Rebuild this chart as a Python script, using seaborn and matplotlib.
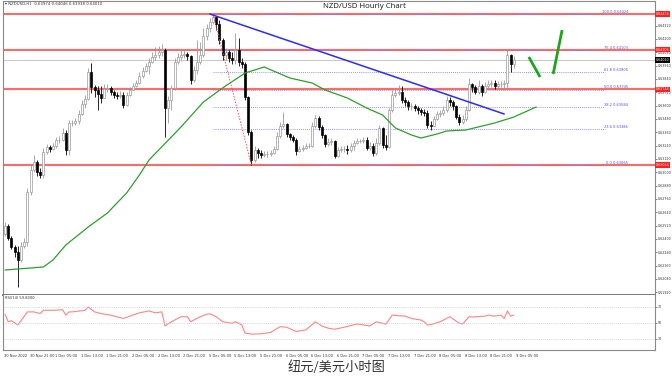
import numpy as np
import pandas as pd
import matplotlib
matplotlib.use("Agg")
import matplotlib.pyplot as plt
import seaborn as sns

# ---------------- data ----------------
first_open = 0.62444
close = [0.62516, 0.62408, 0.62327, 0.62282, 0.62210, 0.62336, 0.62372, 0.62822, 0.63020, 0.63092,
         0.63002, 0.62975, 0.63182, 0.63227, 0.63209, 0.63236, 0.63290, 0.63290, 0.63353, 0.63200,
         0.63443, 0.63443, 0.63461, 0.63524, 0.63614, 0.63659, 0.63902, 0.63767, 0.63740, 0.63704,
         0.63668, 0.63749, 0.63758, 0.63722, 0.63695, 0.63686, 0.63695, 0.63605, 0.63695, 0.63740,
         0.63776, 0.63803, 0.63866, 0.63911, 0.63956, 0.63992, 0.64037, 0.64055, 0.64082, 0.64100,
         0.63578, 0.63650, 0.63758, 0.63992, 0.64037, 0.64055, 0.64064, 0.64046, 0.63830, 0.63920,
         0.63992, 0.64055, 0.64226, 0.64298, 0.64352, 0.64397, 0.64334, 0.64190, 0.64055, 0.64082,
         0.64028, 0.64010, 0.64100, 0.63992, 0.63974, 0.63677, 0.63362, 0.63110, 0.63200, 0.63173,
         0.63155, 0.63164, 0.63164, 0.63173, 0.63209, 0.63326, 0.63416, 0.63434, 0.63344, 0.63317,
         0.63290, 0.63191, 0.63209, 0.63218, 0.63236, 0.63236, 0.63416, 0.63488, 0.63407, 0.63335,
         0.63254, 0.63272, 0.63281, 0.63146, 0.63200, 0.63209, 0.63209, 0.63200, 0.63236, 0.63263,
         0.63281, 0.63281, 0.63290, 0.63218, 0.63236, 0.63173, 0.63263, 0.63398, 0.63245, 0.63227,
         0.63560, 0.63695, 0.63713, 0.63722, 0.63650, 0.63632, 0.63596, 0.63596, 0.63578, 0.63560,
         0.63542, 0.63533, 0.63425, 0.63416, 0.63479, 0.63524, 0.63533, 0.63560, 0.63650, 0.63632,
         0.63596, 0.63497, 0.63452, 0.63479, 0.63560, 0.63794, 0.63767, 0.63722, 0.63776, 0.63722,
         0.63776, 0.63794, 0.63803, 0.63776, 0.63794, 0.63794, 0.63803, 0.64055, 0.63974, 0.64010]
high = [0.62552, 0.62534, 0.62426, 0.62345, 0.62336, 0.62372, 0.62408, 0.62858, 0.63065, 0.63155,
        0.63110, 0.63038, 0.63218, 0.63254, 0.63245, 0.63263, 0.63317, 0.63326, 0.63398, 0.63380,
        0.63470, 0.63470, 0.63488, 0.63560, 0.63650, 0.63695, 0.63938, 0.63983, 0.63785, 0.63776,
        0.63776, 0.63794, 0.63794, 0.63776, 0.63740, 0.63722, 0.63731, 0.63722, 0.63722, 0.63767,
        0.63803, 0.63830, 0.63902, 0.63947, 0.63983, 0.64028, 0.64082, 0.64127, 0.64136, 0.64154,
        0.64118, 0.63686, 0.63785, 0.64028, 0.64073, 0.64100, 0.64100, 0.64082, 0.64055, 0.63956,
        0.64190, 0.64172, 0.64298, 0.64334, 0.64388, 0.64424, 0.64406, 0.64370, 0.64208, 0.64118,
        0.64100, 0.64082, 0.64253, 0.64208, 0.64028, 0.63992, 0.63686, 0.63380, 0.63236, 0.63218,
        0.63200, 0.63191, 0.63191, 0.63200, 0.63236, 0.63362, 0.63452, 0.63542, 0.63443, 0.63353,
        0.63335, 0.63308, 0.63236, 0.63245, 0.63263, 0.63263, 0.63452, 0.63515, 0.63506, 0.63425,
        0.63344, 0.63308, 0.63308, 0.63290, 0.63227, 0.63236, 0.63236, 0.63245, 0.63263, 0.63290,
        0.63308, 0.63299, 0.63317, 0.63317, 0.63272, 0.63263, 0.63308, 0.63425, 0.63407, 0.63335,
        0.63578, 0.63740, 0.63758, 0.63785, 0.63776, 0.63677, 0.63650, 0.63623, 0.63614, 0.63596,
        0.63578, 0.63569, 0.63560, 0.63461, 0.63506, 0.63551, 0.63560, 0.63596, 0.63686, 0.63677,
        0.63650, 0.63605, 0.63524, 0.63515, 0.63596, 0.63848, 0.63803, 0.63785, 0.63830, 0.63794,
        0.63812, 0.63830, 0.63830, 0.63830, 0.63821, 0.63821, 0.63830, 0.64109, 0.64064, 0.64046]
low = [0.62426, 0.62390, 0.62309, 0.62237, 0.61967, 0.62192, 0.62318, 0.62336, 0.62795, 0.63002,
       0.62966, 0.62948, 0.62948, 0.63164, 0.63182, 0.63200, 0.63218, 0.63263, 0.63281, 0.63155,
       0.63155, 0.63416, 0.63425, 0.63434, 0.63515, 0.63578, 0.63650, 0.63713, 0.63677, 0.63560,
       0.63623, 0.63695, 0.63722, 0.63695, 0.63668, 0.63659, 0.63668, 0.63578, 0.63596, 0.63686,
       0.63740, 0.63767, 0.63794, 0.63848, 0.63902, 0.63884, 0.63983, 0.64010, 0.64028, 0.64046,
       0.63317, 0.63443, 0.63560, 0.63740, 0.63974, 0.64010, 0.64028, 0.64010, 0.63794, 0.63812,
       0.63884, 0.63974, 0.64037, 0.64190, 0.64262, 0.64334, 0.64280, 0.64154, 0.64010, 0.64010,
       0.63992, 0.63974, 0.63974, 0.63956, 0.63938, 0.63650, 0.63335, 0.63065, 0.63092, 0.63128,
       0.63128, 0.63137, 0.63137, 0.63146, 0.63164, 0.63200, 0.63308, 0.63398, 0.63317, 0.63290,
       0.63272, 0.63155, 0.63182, 0.63191, 0.63209, 0.63218, 0.63227, 0.63398, 0.63380, 0.63308,
       0.63227, 0.63236, 0.63245, 0.63128, 0.63137, 0.63182, 0.63182, 0.63164, 0.63182, 0.63200,
       0.63254, 0.63263, 0.63263, 0.63200, 0.63200, 0.63146, 0.63155, 0.63245, 0.63218, 0.63200,
       0.63218, 0.63542, 0.63677, 0.63695, 0.63623, 0.63596, 0.63560, 0.63560, 0.63551, 0.63524,
       0.63515, 0.63506, 0.63398, 0.63380, 0.63416, 0.63470, 0.63497, 0.63515, 0.63542, 0.63596,
       0.63560, 0.63479, 0.63425, 0.63434, 0.63461, 0.63551, 0.63722, 0.63704, 0.63704, 0.63686,
       0.63713, 0.63758, 0.63767, 0.63749, 0.63758, 0.63767, 0.63740, 0.63758, 0.63902, 0.63938]

ma_bar = [0, 12, 15, 19, 26, 32, 38, 42, 45, 55, 62, 68, 75, 81, 89, 96, 100, 107, 113, 118,
          122, 127, 130, 135, 138, 144, 153, 159, 166]
ma_val = [0.62120, 0.62147, 0.62210, 0.62345, 0.62507, 0.62633, 0.62813, 0.62975, 0.63110, 0.63407,
          0.63632, 0.63758, 0.63893, 0.63947, 0.63848, 0.63803, 0.63740, 0.63668, 0.63578, 0.63515,
          0.63398, 0.63335, 0.63308, 0.63344, 0.63371, 0.63380, 0.63443, 0.63497, 0.63587]

rsi_bar = [0, 1, 2, 4, 5, 7, 9, 11, 12, 16, 18, 19, 20, 21, 25, 26, 28, 30, 33, 37,
           39, 42, 45, 47, 49, 50, 52, 55, 57, 58, 61, 63, 64, 66, 68, 71, 72, 74, 75, 77,
           80, 83, 86, 88, 91, 94, 97, 99, 101, 103, 106, 110, 112, 114, 116, 118, 119, 121, 125, 127,
           130, 131, 132, 133, 136, 139, 142, 143, 145, 146, 150, 151, 153, 155, 156, 157, 158, 159]
rsi_val = [61.0, 51.6, 52.9, 47.6, 52.9, 63.9, 63.9, 61.8, 65.9, 65.9, 66.7, 59.8, 63.9, 63.9, 65.9, 70.0, 63.9, 61.8, 59.8, 55.7,
           58.6, 62.7, 65.1, 62.7, 63.9, 46.3, 51.6, 57.8, 57.8, 51.6, 57.8, 61.0, 61.5, 57.8, 51.6, 49.6, 51.6, 47.6, 37.3, 36.1,
           36.5, 38.2, 45.5, 44.7, 39.4, 41.4, 51.6, 46.3, 43.5, 42.2, 44.7, 48.8, 47.6, 46.3, 51.6, 49.6, 48.5, 59.8, 58.6, 55.7,
           53.7, 51.6, 47.6, 47.8, 51.6, 57.8, 49.6, 48.8, 57.8, 57.5, 58.6, 59.8, 58.6, 59.8, 55.7, 65.1, 58.6, 59.8]

tick_labels = ["30 Nov 2022", "30 Nov 21:00", "1 Dec 05:00", "1 Dec 13:00", "1 Dec 21:00",
               "2 Dec 05:00", "2 Dec 13:00", "2 Dec 21:00", "5 Dec 05:00", "5 Dec 13:00",
               "5 Dec 21:00", "6 Dec 05:00", "6 Dec 13:00", "6 Dec 21:00", "7 Dec 05:00",
               "7 Dec 13:00", "7 Dec 21:00", "8 Dec 05:00", "8 Dec 13:00", "8 Dec 21:00",
               "9 Dec 05:00"]
price_ticks = [0.64320, 0.64200, 0.64080, 0.63960, 0.63840, 0.63720, 0.63600, 0.63480,
               0.63360, 0.63240, 0.63120, 0.63000, 0.62880, 0.62760, 0.62640, 0.62520, 0.62400,
               0.62280, 0.62160, 0.62040, 0.61920]
rsi_ticks = [70, 50, 30]

fib_high, fib_low = 0.64424, 0.63065
fib_levels = [100.0, 76.4, 61.8, 50.0, 38.2, 23.6, 0.0]
red_levels = [0.64424, 0.64103, 0.63745, 0.63065]
trend_bar, trend_price = [64, 156], [0.64424, 0.63524]
fibline_bar, fibline_price = [65, 77], [0.64424, 0.63065]
arrow1_bar, arrow1_price = [163.7, 167.2], [0.64037, 0.63857]
arrow2_bar, arrow2_price = [171.3, 174.1], [0.63884, 0.64280]

title = "NZD/USD Hourly Chart"
caption = "纽元/美元小时图"
symbol = "NZDUSD,H1"

# ---------------- drawing ----------------
sns.set_style("white")
plt.rcParams['font.family'] = ['DejaVu Sans']

W, H = 672, 377
fig = plt.figure(figsize=(W / 100, H / 100), dpi=100)


def box(x0, y0, x1, y1):
    return [x0 / W, 1 - y1 / H, (x1 - x0) / W, (y1 - y0) / H]


ax = fig.add_axes(box(3, 1, 655, 295))
axr = fig.add_axes(box(3, 295, 655, 350), sharex=ax)

n = len(close)
opens = [first_open] + close[:-1]
for i in range(n):
    o, c, h, l = opens[i], close[i], high[i], low[i]
    bull = c >= o
    col = '#9a9a9a' if bull else '#000000'
    ax.vlines(i, min(l, o, c), max(h, o, c), color=col, lw=0.6, zorder=3)
    ax.bar(i, max(abs(c - o), 0.00002), bottom=min(o, c), width=0.62,
           facecolor='white' if bull else 'black', edgecolor=col, linewidth=0.5, zorder=4)

# horizontal red levels
for p in red_levels:
    ax.axhline(p, color='#ff6b6b', lw=1.5, zorder=1)

# fibonacci dotted lines + labels
fib_prices = [fib_low + (fib_high - fib_low) * lv / 100 for lv in fib_levels]
ax.hlines(fib_prices, 65, 187.5, colors='#7070ff', linestyles=(0, (1, 1.5)), lw=0.6, zorder=2)
for lv, p in zip(fib_levels, fib_prices):
    ax.text(194.7, p, f"{lv:.1f} {p:.5f}", ha='right', va='bottom', fontsize=2.6,
            color='#5050ff', zorder=6)
ax.plot(fibline_bar, fibline_price, color='#ff5050', ls=(0, (1.5, 1.5)), lw=0.7, zorder=5)

# current price line
current = close[-1]
ax.axhline(current, color='#c0c0c0', lw=0.6, zorder=1)

# moving average and trend line
sns.lineplot(x=ma_bar, y=ma_val, ax=ax, color='#2e9e2e', lw=0.9, zorder=5)
sns.lineplot(x=trend_bar, y=trend_price, ax=ax, color='#2b2bff', lw=1.1, zorder=5)

# hand-drawn projection strokes
ax.plot(arrow1_bar, arrow1_price, color='#1ea51e', lw=2.0, solid_capstyle='butt', zorder=6)
ax.plot(arrow2_bar, arrow2_price, color='#1ea51e', lw=2.0, solid_capstyle='butt', zorder=6)

ax.set_xlim(-0.625, 203.125)
ax.set_ylim(0.61895, 0.64541)
ax.yaxis.tick_right()
ax.set_yticks(price_ticks)
ax.set_yticklabels([f"{t:.5f}" for t in price_ticks])
ax.tick_params(axis='y', labelsize=2.3, length=1.5, width=0.5, pad=0.5, colors='#555555', labelcolor='#333333')
ax.tick_params(axis='x', bottom=False, labelbottom=False)
ax.set_xlabel('')
ax.set_ylabel('')

for p in red_levels:
    ax.text(1.0015, p, f"{p:.5f}", transform=ax.get_yaxis_transform(), ha='left', va='center',
            fontsize=2.3, color='white', zorder=10, clip_on=False,
            bbox=dict(facecolor='#ff2020', edgecolor='none', pad=0.5))
ax.text(1.0015, current, f"{current:.5f}", transform=ax.get_yaxis_transform(), ha='left', va='center',
        fontsize=2.3, color='white', zorder=10, clip_on=False,
        bbox=dict(facecolor='black', edgecolor='none', pad=0.5))

for s in ['left', 'right', 'top']:
    ax.spines[s].set_color('#8a8a8a')
    ax.spines[s].set_linewidth(0.8)
ax.spines['bottom'].set_color('#707070')
ax.spines['bottom'].set_linewidth(1.3)

# RSI
sns.lineplot(x=rsi_bar, y=rsi_val, ax=axr, color='#ff8585', lw=0.8)
for lv in rsi_ticks:
    axr.axhline(lv, color='#c8c8c8', lw=0.6, ls=(0, (1, 1.5)))
axr.set_ylim(16.25, 85)
axr.yaxis.tick_right()
axr.set_yticks(rsi_ticks)
axr.set_yticklabels([str(t) for t in rsi_ticks])
axr.tick_params(axis='y', labelsize=2.3, length=1.5, width=0.5, pad=0.5, colors='#555555', labelcolor='#333333')
axr.set_xticks([8 * k - 0.3 for k in range(len(tick_labels))])
axr.set_xticklabels(tick_labels, ha='left')
axr.tick_params(axis='x', labelsize=2.6, length=2, width=0.5, pad=1.2, colors='#555555', labelcolor='#333333')
axr.set_xlabel('')
axr.set_ylabel('')
axr.text(0.003, 0.985, f"RSI(14) {rsi_val[-1]:.4f}", transform=axr.transAxes, fontsize=2.6,
         va='top', ha='left', color='#333333')
for s in ['left', 'right', 'bottom']:
    axr.spines[s].set_color('#8a8a8a')
    axr.spines[s].set_linewidth(0.8)
axr.spines['top'].set_visible(False)

# texts
o, h, l, c = opens[-1], high[-1], low[-1], close[-1]
fig.text(5 / W, 1 - 4 / H, f"\u25BE {symbol}  {o:.5f} {h:.5f} {l:.5f} {c:.5f}", fontsize=2.8,
         ha='left', va='center', color='#333333')
fig.text(364 / W, 1 - 6.5 / H, title, fontsize=5.6, fontweight='bold', ha='center', va='center',
         color='#222222', family=['Noto Sans', 'DejaVu Sans'])
fig.text(337 / W, 1 - 367 / H, caption, fontsize=9.5, ha='center', va='center', color='#333333',
         family=['Noto Sans CJK SC', 'DejaVu Sans'])

fig.savefig("out.png", dpi=100, facecolor='white')
